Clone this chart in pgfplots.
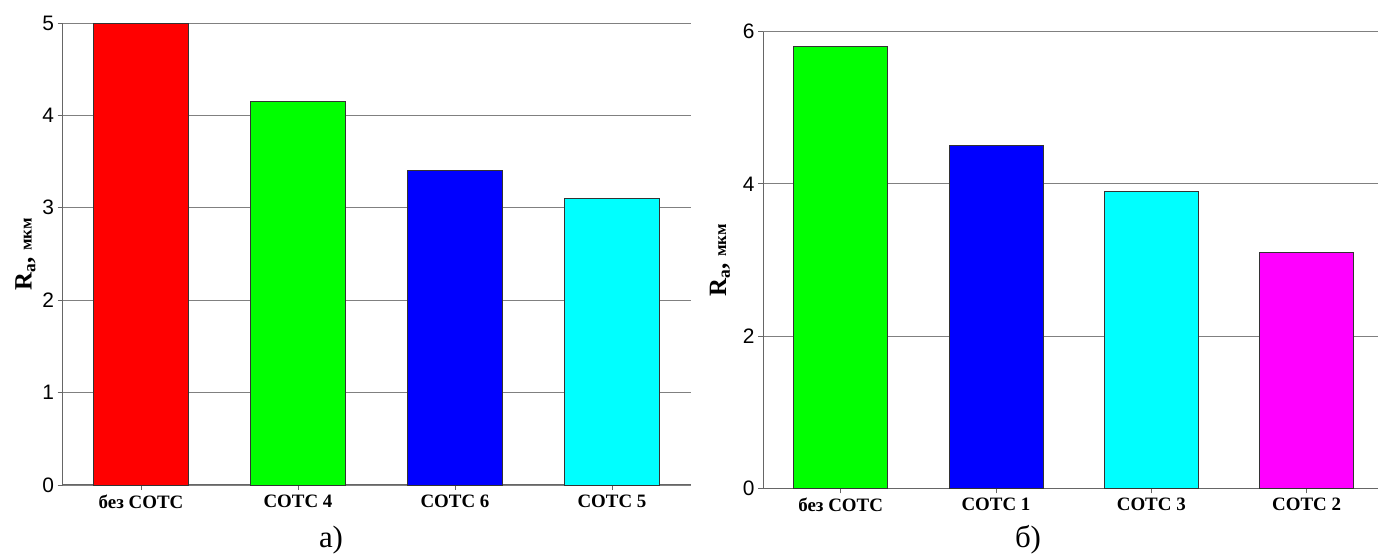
\documentclass[border=0pt]{standalone}
\usepackage{fontspec}
\setmainfont{Liberation Sans}
\newfontfamily\tnr{Liberation Serif}
\usepackage{pgfplots}
\pgfplotsset{compat=1.18}
\definecolor{bgreen}{RGB}{0,255,0}
\definecolor{bblue}{RGB}{0,0,255}
\definecolor{bcyan}{RGB}{0,255,255}
\definecolor{bmag}{RGB}{255,0,255}
\definecolor{bred}{RGB}{255,0,0}
\pgfplotsset{
  common/.style={
    scale only axis,
    anchor=south west,
    xmin=-0.5, ymin=0,
    axis x line*=bottom, axis y line*=left,
    xtick={0,1,2,3},
    tick align=outside, major tick length=5bp,
    xticklabel style={font=\tnr\bfseries\fontsize{19}{19}\selectfont, yshift=-1bp},
    yticklabel style={font=\fontsize{21}{21}\selectfont},
    /pgf/number format/assume math mode=true,
    ymajorgrids, grid style={gray, line width=0.8pt},
    axis line style={black!60, line width=1pt},
    major tick style={black!60, line width=0.8pt},
    clip=false,
  },
  rbar/.style={ybar, bar shift=0pt, draw=black!80, line width=0.9pt, fill=#1},
}
\newcommand{\ralabel}{\tnr\bfseries\fontsize{25}{25}\selectfont R\textsubscript{a}, \fontsize{17}{17}\selectfont мкм}
\begin{document}
\begin{tikzpicture}[x=1bp,y=1bp]
\useasboundingbox (0,0) rectangle (1379,557);
\begin{axis}[common,
  at={(62.5bp,72bp)}, width=628bp, height=462bp,
  xmax=3.5, ymax=5, ytick={0,1,2,3,4,5},
  xticklabels={без СОТС, СОТС 4, СОТС 6, СОТС 5},
  ylabel={\ralabel},
  ylabel style={at={(axis description cs:-0.059,0.5)}, anchor=center},
  bar width=95bp,
]
\addplot[rbar=bred] coordinates {(0,5)};
\addplot[rbar=bgreen] coordinates {(1,4.15)};
\addplot[rbar=bblue] coordinates {(2,3.4)};
\addplot[rbar=bcyan] coordinates {(3,3.1)};
\end{axis}
\begin{axis}[common,
  at={(763bp,68.7bp)}, width=615bp, height=456.6bp,
  xmax=3.46, ymax=6, ytick={0,2,4,6},
  xticklabels={без СОТС, СОТС 1, СОТС 3, СОТС 2},
  ylabel={\ralabel},
  ylabel style={at={(axis description cs:-0.07,0.5)}, anchor=center},
  bar width=94bp,
]
\addplot[rbar=bgreen] coordinates {(0,5.8)};
\addplot[rbar=bblue] coordinates {(1,4.5)};
\addplot[rbar=bcyan] coordinates {(2,3.9)};
\addplot[rbar=bmag] coordinates {(3,3.1)};
\end{axis}
\node at (331,17) {\tnr\fontsize{31}{31}\selectfont а)};
\node at (1028,17) {\tnr\fontsize{31}{31}\selectfont б)};
\end{tikzpicture}
\end{document}
